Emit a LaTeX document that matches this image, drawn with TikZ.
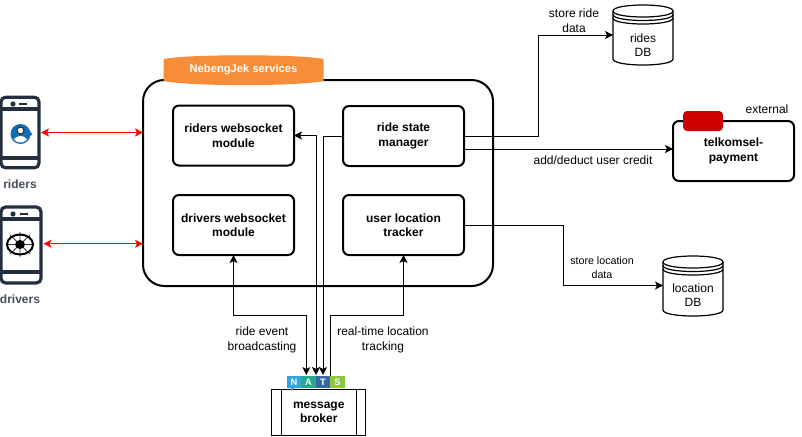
\documentclass[tikz,border=0pt]{standalone}
\usepackage{fontspec}
\setmainfont{Liberation Sans}
\usetikzlibrary{arrows.meta,calc}
\definecolor{phonecol}{HTML}{232F3E}
\definecolor{orangecol}{HTML}{F68D38}
\definecolor{redcol}{HTML}{CC0000}
\definecolor{iconblue}{HTML}{0F6FB5}
\tikzset{
  lbl/.style={align=center,inner sep=0pt,outer sep=0pt,font=\fontsize{9}{10.9}\selectfont},
  smalllbl/.style={lbl,font=\fontsize{8}{10.5}\selectfont},
  module/.style={draw,line width=1.5pt,rounded corners=4.5pt,minimum width=90.75pt,minimum height=45pt,align=center,inner sep=0pt,outer sep=0pt,font=\fontsize{9}{10.9}\bfseries\selectfont,execute at begin node={\rule{0pt}{10.5pt}}},
  container/.style={draw,line width=1.5pt,rounded corners=16pt,minimum width=262.5pt,minimum height=154.5pt,inner sep=0pt,outer sep=0pt},
  conn/.style={draw,line width=0.75pt},
  tip/.style={-{Stealth[length=6pt,width=6pt,inset=1.5pt]}},
  biarrow/.style={{Stealth[length=6pt,width=6pt,inset=1.5pt]}-{Stealth[length=6pt,width=6pt,inset=1.5pt]}},
  redarrow/.style={line width=0.75pt,draw=red,biarrow,red},
  phone/.style={draw=phonecol,line width=2.4pt,rounded corners=3.5pt,inner sep=0pt,outer sep=0pt},
  dbline/.style={line width=0.9pt,fill=white},
  broker/.style={draw,line width=0.9pt,minimum width=70.5pt,minimum height=34pt,inner sep=0pt,outer sep=0pt,align=center,font=\fontsize{9}{10.9}\bfseries\selectfont,execute at begin node={\rule{0pt}{10.5pt}}},
  nats/.style={minimum width=10.9pt,minimum height=9pt,inner sep=0pt,outer sep=0pt,text=white,font=\fontsize{7}{7}\bfseries\selectfont},
  phonelabel/.style={inner sep=0pt,text=phonecol!85!white,font=\fontsize{9}{10.9}\bfseries\selectfont}
}
\newcommand{\dbshape}{%
  \draw[dbline] (0,6) .. controls (0,-2) and (60,-2) .. (60,6) -- (60,54)
    .. controls (60,62) and (0,62) .. (0,54) -- cycle;
  \draw[line width=0.9pt] (0,6) .. controls (0,14) and (60,14) .. (60,6);
  \draw[line width=0.9pt] (0,9.5) .. controls (0,17.5) and (60,17.5) .. (60,9.5);
  \draw[line width=0.9pt] (0,13) .. controls (0,21) and (60,21) .. (60,13);
}
\begin{document}
\begin{tikzpicture}[x=0.75pt,y=-0.75pt]
\useasboundingbox (0,0) rectangle (802,436);
% container
\node[container] (svc) at (318,183) {};
% pill
\fill[orangecol] (163.5,59) .. controls (190,54) and (297,54) .. (323.5,59) -- (323.5,81)
  .. controls (297,86.5) and (190,86.5) .. (163.5,81) -- cycle;
\node[lbl,text=white,font=\fontsize{8.4}{10.9}\bfseries\selectfont] (svclabel) at (243.5,70) {NebengJek services};
% modules
\node[module] (riders) at (233.5,135.5) {riders websocket\\module};
\node[module] (ride) at (403.5,136) {ride state\\manager};
\node[module] (drivers) at (233.5,225) {drivers websocket\\module};
\node[module] (tracker) at (403.5,225) {user location\\tracker};
% telkomsel
\node[module] (telkomsel) at (733.5,151) {telkomsel-\\payment};
\fill[redcol,rounded corners=3pt] (683,111) rectangle (723,131);
\node[lbl] (external) at (767,109.5) {external};
% databases
\node[inner sep=0pt,outer sep=0pt,minimum width=45pt,minimum height=45pt] (rides) at (643,35) {};
\begin{scope}[shift={(613,5)}]\dbshape\end{scope}
\node[lbl] (ridestext) at (643,45) {rides\\DB};
\node[inner sep=0pt,outer sep=0pt,minimum width=45pt,minimum height=45pt] (location) at (693,285.5) {};
\begin{scope}[shift={(663,256)}]\dbshape\end{scope}
\node[lbl] (loctext) at (693,295) {location\\DB};
% broker
\node[broker] (msg) at (318.75,412.5) {message\\broker};
\draw[line width=0.9pt] (281.5,390) -- (281.5,435) (356.5,390) -- (356.5,435);
% NATS
\node[nats,fill={rgb,255:red,52;green,165;blue,220}] (natsn) at (294,382) {N};
\fill[fill={rgb,255:red,52;green,165;blue,220}] (291,387) -- (296,387) -- (291,391) -- cycle;
\node[nats,fill={rgb,255:red,39;green,170;blue,140}] (natsa) at (308.5,382) {A};
\node[nats,fill={rgb,255:red,55;green,105;blue,165}] (natst) at (323,382) {T};
\node[nats,fill={rgb,255:red,141;green,198;blue,63}] (natss) at (337.5,382) {S};
% coordinates
\coordinate (c1) at (306.3,375);
\coordinate (c2) at (316,375);
\coordinate (c3) at (323,375);
\coordinate (c4) at (330.5,376);
\coordinate (m1) at (233.5,315);
\coordinate (m2) at (403.5,315);
\coordinate (r1) at (538,136);
\coordinate (r2) at (465,149);
\coordinate (r3) at (563,225);
\coordinate (l1) at (323,136);
% connectors
\draw[conn,biarrow] (drivers.south) -- (m1) -| (c1);
\draw[conn,biarrow] (riders.east) -| (c2);
\draw[conn,tip] (ride.west |- l1) -| (c3);
\draw[conn,{Stealth[length=6pt,width=6pt,inset=1.5pt]}-] (tracker.south) -- (m2) -| (c4);
\draw[conn,tip] (ride.east |- r1) -- (r1) |- (rides.west);
\draw[conn,tip] (r2) -- (r2 -| telkomsel.west);
\draw[conn,tip] (tracker.east) -- (r3) |- (location.west);
% labels
\node[lbl] (l_a) at (574,20.5) {store ride\\data};
\node[lbl] (l_b) at (593,160) {add/deduct user credit};
\node[smalllbl] (l_c) at (602,268) {store location\\data};
\node[lbl] (l_d) at (262,340) {ride event\\broadcasting};
\node[lbl] (l_e) at (383,340) {real-time location\\tracking};
% rider phone
\node[phone,minimum width=28.5pt,minimum height=53pt] (phone1) at (20,132.5) {};
\draw[phonecol,line width=2.4pt] (1,109) -- (39,109) (1,158) -- (39,158);
\fill[phonecol] (13,104) circle[radius=2.6];
\draw[phonecol,line width=2pt] (19,104) -- (27,104);
\fill[iconblue] (20.5,134) circle[radius=10];
\fill[iconblue] (29,130) -- (32.5,134.5) -- (28,137) -- cycle;
\begin{scope}
  \clip (20.5,134) circle[radius=8.5];
  \fill[white] (20.5,144) circle[radius=8];
\end{scope}
\draw[white,fill=white] (20.5,130.5) circle[radius=3.6];
\draw[phonecol,line width=0.9pt] (20.5,130.5) circle[radius=3.6];
\node[phonelabel] (phone1label) at (20,184) {riders};
% driver phone
\node[phone,minimum width=30pt,minimum height=57pt] (phone2) at (21,245) {};
\draw[phonecol,line width=2.4pt] (1,219) -- (41,219) (1,272) -- (41,272);
\fill[phonecol] (13,214) circle[radius=2.6];
\draw[phonecol,line width=2pt] (20,214) -- (28,214);
\draw[black!80,line width=0.6pt] (20,232) -- (20,257) (6,244.5) -- (34,244.5)
  (10,235) -- (30,254) (30,235) -- (10,254);
\draw[black,line width=1.5pt] (20,244.5) ellipse[x radius=13,y radius=10];
\fill[black] (20,244.5) ellipse[x radius=5,y radius=4.5];
\node[phonelabel] (phone2label) at (20,299) {drivers};
% red arrows
\coordinate (a1) at (41,132.5);
\coordinate (a2) at (43.5,243.7);
\draw[redarrow] (a1) -- (a1 -| svc.west);
\draw[redarrow] (a2) -- (a2 -| svc.west);
\end{tikzpicture}
\end{document}
